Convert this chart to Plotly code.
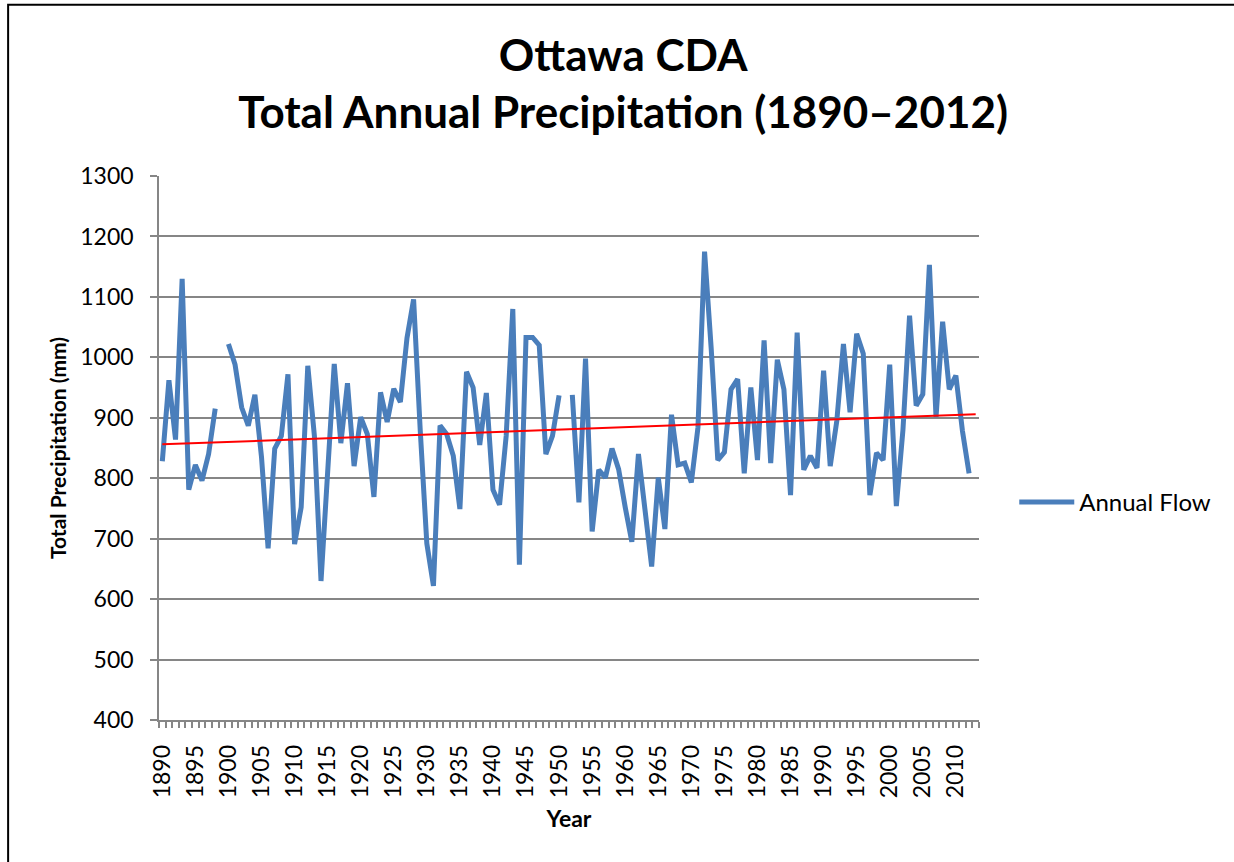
import plotly.graph_objects as go

# Total annual precipitation at Ottawa CDA (mm); None marks years without a record
years = list(range(1890, 2013))
precip = [
    828, 962, 864, 1130, 781, 822, 796, 840, 915, None,          # 1890-1899
    1022, 988, 917, 887, 938, 835, 684, 849, 870, 972,           # 1900-1909
    691, 752, 986, 870, 630, 800, 989, 858, 957, 820,            # 1910-1919
    901, 873, 769, 942, 893, 948, 926, 1032, 1096, 880,          # 1920-1929
    692, 622, 887, 873, 837, 749, 976, 950, 855, 941,            # 1930-1939
    781, 756, 870, 1080, 657, 1033, 1033, 1020, 840, 870,        # 1940-1949
    937, None, 938, 760, 998, 712, 814, 801, 849, 815,           # 1950-1959
    752, 695, 840, 748, 654, 801, 716, 905, 822, 825,            # 1960-1969
    793, 884, 1175, 1015, 830, 843, 947, 964, 808, 950,          # 1970-1979
    830, 1028, 825, 996, 947, 772, 1041, 814, 837, 817,          # 1980-1989
    978, 820, 895, 1022, 909, 1039, 1006, 772, 842, 830,         # 1990-1999
    988, 754, 880, 1069, 920, 939, 1153, 901, 1059, 947,         # 2000-2009
    970, 878, 808,                                               # 2010-2012
]

# Linear trend end points
trend_years = [1890, 2013]
trend_values = [856, 906]

tick_years = list(range(1890, 2011, 5))

font_family = "Lato, 'Open Sans', sans-serif"

fig = go.Figure()
fig.add_trace(go.Scatter(
    x=years, y=precip, mode="lines", name="Annual Flow",
    line=dict(color="#4A7EBB", width=5), connectgaps=False,
))
fig.add_trace(go.Scatter(
    x=trend_years, y=trend_values, mode="lines", showlegend=False,
    line=dict(color="#FF0000", width=2),
))

fig.update_layout(
    width=1234, height=862,
    margin=dict(l=159, r=255, t=176, b=142),
    paper_bgcolor="white", plot_bgcolor="white",
    font=dict(family=font_family, color="black", size=23),
    title=dict(
        text="<b>Ottawa CDA</b><br><b>Total Annual Precipitation (1890\u20132012)</b>",
        x=0.505, xanchor="center", y=0.918, yanchor="top",
        font=dict(size=44, family=font_family, color="black"),
    ),
    legend=dict(
        x=1.043, xanchor="left", y=0.4, yanchor="middle",
        font=dict(size=24, family=font_family, color="black"),
        itemwidth=55,
    ),
    showlegend=True,
)

fig.update_xaxes(
    range=[1889.5, 2013.5],
    tickmode="array", tickvals=tick_years, ticktext=[str(v) for v in tick_years],
    tickangle=-90, ticks="", tickfont=dict(size=23),
    ticklabelstandoff=14,
    showgrid=False, showline=True, linecolor="#868686", linewidth=1.5,
    minor=dict(ticks="outside", tick0=1889.5, dtick=1, ticklen=6,
               tickcolor="#868686", tickwidth=1.5, showgrid=False),
    title=dict(text="<b>Year</b>", font=dict(size=23), standoff=14),
    zeroline=False,
)
fig.update_yaxes(
    range=[400, 1300], dtick=100, tick0=400,
    ticks="outside", ticklen=7, tickcolor="#868686", tickwidth=1.5,
    tickfont=dict(size=23), ticklabelstandoff=12,
    showgrid=True, gridcolor="#868686", gridwidth=1.5,
    showline=True, linecolor="#868686", linewidth=1.5,
    title=dict(text="<b>Total Precipitation (mm)</b>", font=dict(size=21), standoff=8),
    zeroline=False,
)

# Outer chart frame
fig.add_shape(
    type="rect", xref="paper", yref="paper",
    x0=-0.184, x1=1.32, y0=-0.30, y1=1.315,
    line=dict(color="black", width=2), fillcolor="rgba(0,0,0,0)", layer="below",
)

fig.write_html("out.html")
